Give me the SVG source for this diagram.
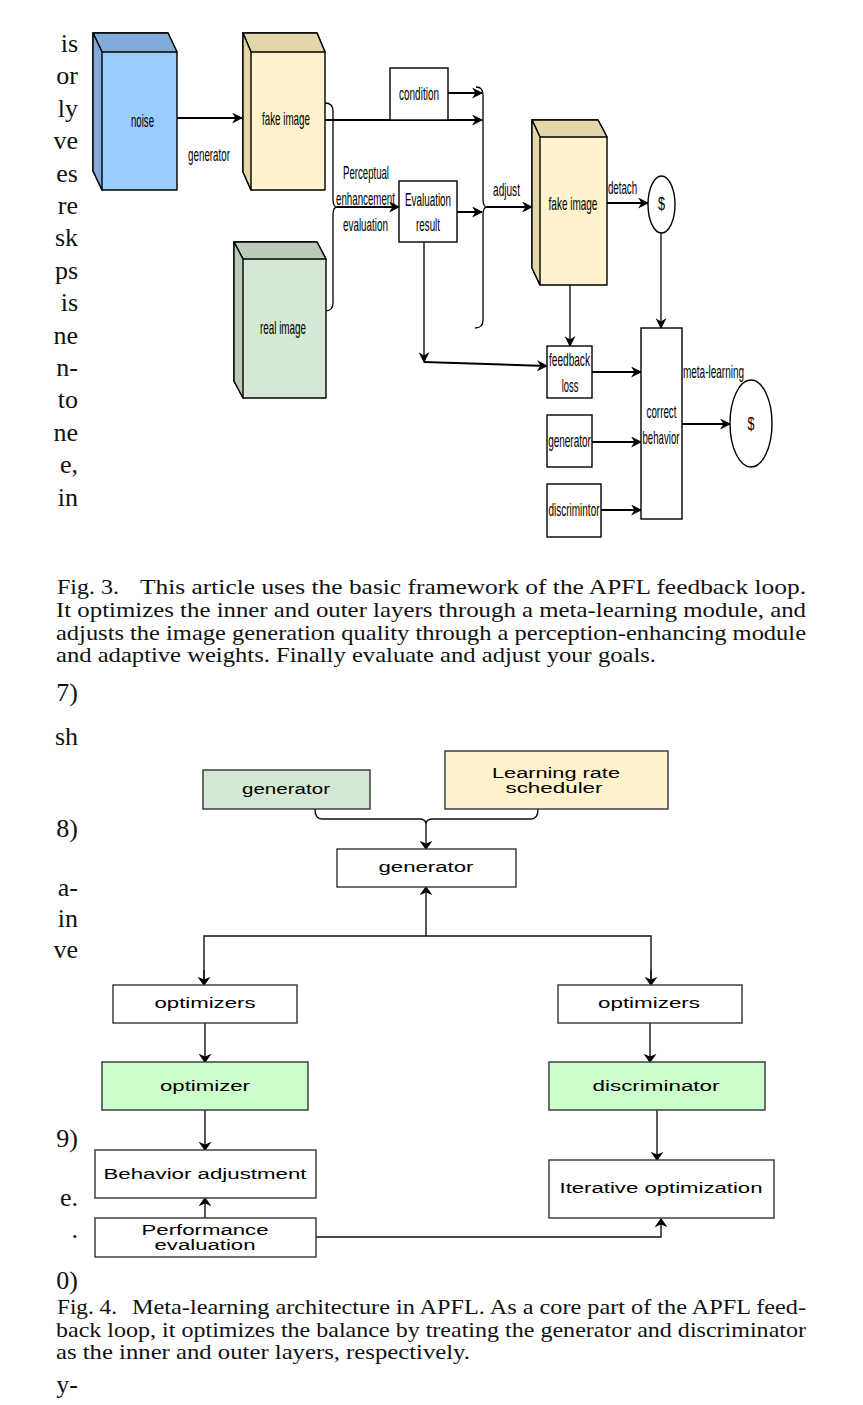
<svg xmlns="http://www.w3.org/2000/svg" width="863" height="1405" viewBox="0 0 863 1405">
<style>
.bg{fill:#ffffff}
.box{fill:#ffffff;stroke:#000;stroke-width:1.4}
.bx2{fill:#ffffff;stroke:#333;stroke-width:1.4}
.cube{stroke:#000;stroke-width:1.4;stroke-linejoin:round}
.t{font-family:"Liberation Sans",Arial,sans-serif;font-size:18px;fill:#000;text-anchor:middle}
.b{font-family:"Liberation Sans",Arial,sans-serif;font-size:14px;fill:#000;text-anchor:middle}
.cap{font-family:"Liberation Serif","Times New Roman",serif;font-size:21px;fill:#111}
.col{font-family:"Liberation Serif","Times New Roman",serif;font-size:26px;fill:#111;text-anchor:end}
.ln{fill:none;stroke:#000;stroke-width:2}
.lt{fill:none;stroke:#000;stroke-width:1.3}
.lb{fill:none;stroke:#111;stroke-width:1.4}
</style>
<defs>
<marker id="ah" viewBox="0 0 10 10" markerWidth="11" markerHeight="11" refX="9" refY="5" orient="auto" markerUnits="userSpaceOnUse">
<path d="M0,0 L10,5 L0,10 L3,5 Z" fill="#000"/>
</marker>
<marker id="ab" viewBox="0 0 10 10" markerWidth="9" markerHeight="13" refX="9" refY="5" orient="auto" markerUnits="userSpaceOnUse" preserveAspectRatio="none">
<path d="M0,0 L10,5 L0,10 L3,5 Z" fill="#000"/>
</marker>
</defs>
<rect class="bg" x="0" y="0" width="863" height="1405"/>

<!-- left column text fragments -->
<g id="column-text">
<text class="col" x="78" y="52">is</text>
<text class="col" x="78" y="84">or</text>
<text class="col" x="78" y="117">ly</text>
<text class="col" x="78" y="149">ve</text>
<text class="col" x="78" y="182">es</text>
<text class="col" x="78" y="214">re</text>
<text class="col" x="78" y="246">sk</text>
<text class="col" x="78" y="279">ps</text>
<text class="col" x="78" y="311">is</text>
<text class="col" x="78" y="344">ne</text>
<text class="col" x="78" y="376">n-</text>
<text class="col" x="78" y="408">to</text>
<text class="col" x="78" y="441">ne</text>
<text class="col" x="78" y="473">e,</text>
<text class="col" x="78" y="506">in</text>
<text class="col" x="78" y="701">7)</text>
<text class="col" x="78" y="745">sh</text>
<text class="col" x="78" y="837">8)</text>
<text class="col" x="78" y="896">a-</text>
<text class="col" x="78" y="927">in</text>
<text class="col" x="78" y="958">ve</text>
<text class="col" x="78" y="1147">9)</text>
<text class="col" x="78" y="1206">e.</text>
<text class="col" x="78" y="1238">.</text>
<text class="col" x="78" y="1289">0)</text>
<text class="col" x="78" y="1393">y-</text>
</g>

<!-- ===== Fig. 3 ===== -->
<g id="connectors-fig3">
<line class="ln" x1="177" y1="118" x2="242" y2="118" marker-end="url(#ah)"/>
<line class="ln" x1="448" y1="93" x2="482" y2="93" marker-end="url(#ah)"/>
<line class="ln" x1="325" y1="120" x2="482" y2="120" marker-end="url(#ah)"/>
<path class="lt" d="M325,103 Q333,103 333,111 L333,199 Q333,207 337,207 Q333,207 333,215 L333,303 Q333,311 325,311"/>
<line class="ln" x1="337" y1="207" x2="399" y2="207" marker-end="url(#ah)"/>
<line class="ln" x1="457" y1="212" x2="482" y2="212" marker-end="url(#ah)"/>
<path class="lt" d="M476,87 Q483,87 483,95 L483,199 Q483,207 487,207 Q483,207 483,215 L483,320 Q483,328 475,328"/>
<line class="ln" x1="487" y1="207" x2="532" y2="207" marker-end="url(#ah)"/>
<line class="ln" x1="607" y1="203" x2="648" y2="203" marker-end="url(#ah)"/>
<line class="lt" x1="661" y1="233" x2="661" y2="328" marker-end="url(#ah)"/>
<line class="lt" x1="570" y1="285" x2="570" y2="346" marker-end="url(#ah)"/>
<line class="lt" x1="424" y1="242" x2="424" y2="362" marker-end="url(#ah)"/>
<line class="ln" x1="424" y1="362" x2="547" y2="366" marker-end="url(#ah)"/>
<line class="ln" x1="592" y1="372" x2="641" y2="372" marker-end="url(#ah)"/>
<line class="ln" x1="592" y1="442" x2="641" y2="442" marker-end="url(#ah)"/>
<line class="ln" x1="601" y1="510" x2="641" y2="510" marker-end="url(#ah)"/>
<line class="ln" x1="682" y1="424" x2="730" y2="424" marker-end="url(#ah)"/>
</g>
<g id="edge-labels-fig3">
<text class="t" transform="translate(209,161) scale(0.545,1)">generator</text>
<text class="t" transform="translate(366,179) scale(0.535,1)">Perceptual</text>
<text class="t" transform="translate(365.5,205) scale(0.54,1)">enhancement</text>
<text class="t" transform="translate(365.5,231) scale(0.55,1)">evaluation</text>
<text class="t" transform="translate(506.5,196) scale(0.56,1)">adjust</text>
<text class="t" transform="translate(622.5,194) scale(0.54,1)">detach</text>
<text class="t" transform="translate(713.5,378) scale(0.555,1)">meta-learning</text>
</g>

<g id="noise">
<path class="cube" fill="#99CCFF" d="M93,33 L168,33 L177,52 L177,190 L102,190 L93,171 Z"/>
<path class="cube" fill="#80ABDB" d="M93,33 L168,33 L177,52 L102,52 Z"/>
<path class="cube" fill="#80ABDB" d="M93,33 L102,52 L102,190 L93,171 Z"/>
<text class="t" transform="translate(142.5,127) scale(0.535,1)">noise</text>
</g>
<g id="fake-image-1">
<path class="cube" fill="#FFF2CC" d="M243,33 L317,33 L325,52 L325,190 L251,190 L243,172 Z"/>
<path class="cube" fill="#E3D6A9" d="M243,33 L317,33 L325,52 L251,52 Z"/>
<path class="cube" fill="#E3D6A9" d="M243,33 L251,52 L251,190 L243,172 Z"/>
<text class="t" transform="translate(286,125) scale(0.545,1)">fake image</text>
</g>
<g id="real-image">
<path class="cube" fill="#D5E8D4" d="M234,242 L317,242 L326,259 L326,398 L243,398 L234,381 Z"/>
<path class="cube" fill="#BACBB9" d="M234,242 L317,242 L326,259 L243,259 Z"/>
<path class="cube" fill="#BACBB9" d="M234,242 L243,259 L243,398 L234,381 Z"/>
<text class="t" transform="translate(283,334) scale(0.55,1)">real image</text>
</g>
<g id="condition">
<rect class="box" x="390" y="68" width="58" height="52"/>
<text class="t" transform="translate(419,100) scale(0.555,1)">condition</text>
</g>
<g id="evaluation-result">
<rect class="box" x="399" y="181" width="58" height="61"/>
<text class="t" transform="translate(428,206) scale(0.55,1)">Evaluation</text>
<text class="t" transform="translate(428,231) scale(0.545,1)">result</text>
</g>
<g id="fake-image-2">
<path class="cube" fill="#FFF2CC" d="M532,120 L598,120 L607,137 L607,285 L540,285 L532,268 Z"/>
<path class="cube" fill="#E3D6A9" d="M532,120 L598,120 L607,137 L540,137 Z"/>
<path class="cube" fill="#E3D6A9" d="M532,120 L540,137 L540,285 L532,268 Z"/>
<text class="t" transform="translate(573,210) scale(0.555,1)">fake image</text>
</g>
<g id="detach-node">
<ellipse class="box" cx="661.5" cy="204.5" rx="13.5" ry="28.5"/>
<text class="t" transform="translate(661.5,210) scale(0.7,1)">$</text>
</g>
<g id="feedback-loss">
<rect class="box" x="547" y="346" width="45" height="52"/>
<text class="t" transform="translate(569.5,366) scale(0.56,1)">feedback</text>
<text class="t" transform="translate(570,392) scale(0.52,1)">loss</text>
</g>
<g id="generator-small">
<rect class="box" x="547" y="415" width="45" height="52"/>
<text class="t" transform="translate(569.5,447) scale(0.555,1)">generator</text>
</g>
<g id="discrimintor">
<rect class="box" x="547" y="484" width="54" height="53"/>
<text class="t" transform="translate(574,516) scale(0.555,1)">discrimintor</text>
</g>
<g id="correct-behavior">
<rect class="box" x="641" y="328" width="41" height="191"/>
<text class="t" transform="translate(661.5,418) scale(0.545,1)">correct</text>
<text class="t" transform="translate(661,444) scale(0.536,1)">behavior</text>
</g>
<g id="meta-node">
<ellipse class="box" cx="751" cy="423.5" rx="21" ry="43.5"/>
<text class="t" transform="translate(751,430) scale(0.7,1)">$</text>
</g>

<g id="caption-fig3">
<text class="cap" x="57" y="594" textLength="62" lengthAdjust="spacingAndGlyphs">Fig. 3.</text>
<text class="cap" x="140" y="594" textLength="666" lengthAdjust="spacingAndGlyphs">This article uses the basic framework of the APFL feedback loop.</text>
<text class="cap" x="56" y="617" textLength="750" lengthAdjust="spacingAndGlyphs">It optimizes the inner and outer layers through a meta-learning module, and</text>
<text class="cap" x="56" y="640" textLength="750" lengthAdjust="spacingAndGlyphs">adjusts the image generation quality through a perception-enhancing module</text>
<text class="cap" x="56" y="662" textLength="600" lengthAdjust="spacingAndGlyphs">and adaptive weights. Finally evaluate and adjust your goals.</text>
</g>

<!-- ===== Fig. 4 ===== -->
<g id="connectors-fig4">
<path class="lb" d="M315,809 Q315,819 322,819 L419,819 Q426,819 426,824 Q426,819 433,819 L531,819 Q538,819 538,809"/>
<line class="lb" x1="426" y1="824" x2="426" y2="849" marker-end="url(#ab)"/>
<line class="lb" x1="426" y1="936" x2="426" y2="887" marker-end="url(#ab)"/>
<path class="lb" d="M204,984 L204,936 L651,936 L651,984"/>
<line class="lb" x1="204" y1="970" x2="204" y2="985" marker-end="url(#ab)"/>
<line class="lb" x1="651" y1="970" x2="651" y2="985" marker-end="url(#ab)"/>
<line class="lb" x1="205" y1="1023" x2="205" y2="1062" marker-end="url(#ab)"/>
<line class="lb" x1="650" y1="1023" x2="650" y2="1062" marker-end="url(#ab)"/>
<line class="lb" x1="205" y1="1110" x2="205" y2="1150" marker-end="url(#ab)"/>
<line class="lb" x1="657" y1="1110" x2="657" y2="1160" marker-end="url(#ab)"/>
<line class="lb" x1="205" y1="1218" x2="205" y2="1198" marker-end="url(#ab)"/>
<path class="lb" d="M316,1237 L661,1237 L661,1219" marker-end="url(#ab)"/>
</g>
<g id="generator-green">
<rect class="bx2" x="203" y="770" width="167" height="39" style="fill:#D5E8D4"/>
<text class="b" x="286" y="794" textLength="88" lengthAdjust="spacingAndGlyphs">generator</text>
</g>
<g id="lr-scheduler">
<rect class="bx2" x="445" y="751" width="223" height="58" style="fill:#FFF2CC"/>
<text class="b" x="556" y="778" textLength="128" lengthAdjust="spacingAndGlyphs">Learning rate</text>
<text class="b" x="554" y="793" textLength="97" lengthAdjust="spacingAndGlyphs">scheduler</text>
</g>
<g id="generator-main">
<rect class="bx2" x="337" y="849" width="179" height="38"/>
<text class="b" x="426" y="872" textLength="95" lengthAdjust="spacingAndGlyphs">generator</text>
</g>
<g id="optimizers-left">
<rect class="bx2" x="113" y="985" width="184" height="38"/>
<text class="b" x="205" y="1008" textLength="101" lengthAdjust="spacingAndGlyphs">optimizers</text>
</g>
<g id="optimizers-right">
<rect class="bx2" x="558" y="985" width="184" height="38"/>
<text class="b" x="649" y="1008" textLength="102" lengthAdjust="spacingAndGlyphs">optimizers</text>
</g>
<g id="optimizer">
<rect class="bx2" x="102" y="1062" width="206" height="48" style="fill:#CCFFCC"/>
<text class="b" x="205" y="1091" textLength="90" lengthAdjust="spacingAndGlyphs">optimizer</text>
</g>
<g id="discriminator">
<rect class="bx2" x="549" y="1062" width="216" height="48" style="fill:#CCFFCC"/>
<text class="b" x="656" y="1091" textLength="127" lengthAdjust="spacingAndGlyphs">discriminator</text>
</g>
<g id="behavior-adjustment">
<rect class="bx2" x="95" y="1150" width="221" height="48"/>
<text class="b" x="205" y="1179" textLength="203" lengthAdjust="spacingAndGlyphs">Behavior adjustment</text>
</g>
<g id="iterative-optimization">
<rect class="bx2" x="549" y="1160" width="225" height="58"/>
<text class="b" x="661" y="1193" textLength="203" lengthAdjust="spacingAndGlyphs">Iterative optimization</text>
</g>
<g id="performance-evaluation">
<rect class="bx2" x="95" y="1218" width="221" height="39"/>
<text class="b" x="205" y="1235" textLength="127" lengthAdjust="spacingAndGlyphs">Performance</text>
<text class="b" x="205" y="1250" textLength="101" lengthAdjust="spacingAndGlyphs">evaluation</text>
</g>

<g id="caption-fig4">
<text class="cap" x="57" y="1314" textLength="60" lengthAdjust="spacingAndGlyphs">Fig. 4.</text>
<text class="cap" x="132" y="1314" textLength="674" lengthAdjust="spacingAndGlyphs">Meta-learning architecture in APFL. As a core part of the APFL feed-</text>
<text class="cap" x="56" y="1337" textLength="750" lengthAdjust="spacingAndGlyphs">back loop, it optimizes the balance by treating the generator and discriminator</text>
<text class="cap" x="56" y="1359" textLength="414" lengthAdjust="spacingAndGlyphs">as the inner and outer layers, respectively.</text>
</g>
</svg>
